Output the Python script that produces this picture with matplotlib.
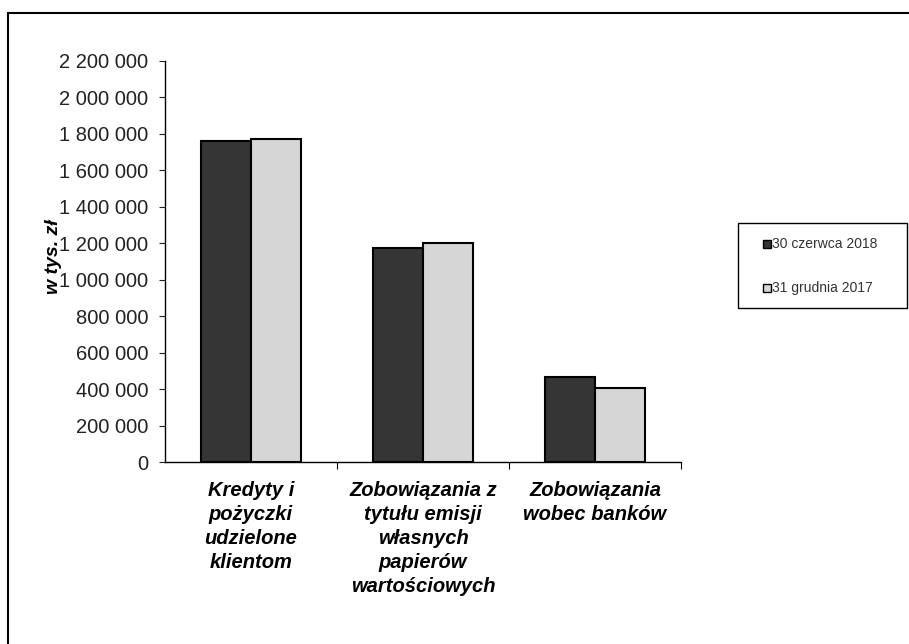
import numpy as np
import matplotlib
matplotlib.use('Agg')
import matplotlib.pyplot as plt
from matplotlib.ticker import FuncFormatter, FixedLocator
from matplotlib.patches import Rectangle

plt.rcParams['font.family'] = ['Liberation Sans', 'DejaVu Sans']

# data (w tys. zl)
categories = ['Kredyty i\npożyczki\nudzielone\nklientom',
              'Zobowiązania z\ntytułu emisji\nwłasnych\npapierów\nwartościowych',
              'Zobowiązania\nwobec banków']
series_names = ['30 czerwca 2018', '31 grudnia 2017']
jun_2018 = [1762000, 1173000, 468000]
dec_2017 = [1773000, 1200000, 408000]

colors = ['#353535', '#d6d6d6']

W, H = 909, 644
fig = plt.figure(figsize=(W / 100, H / 100), dpi=100)
ax = fig.add_axes([165 / W, 1 - 462 / H, 516 / W, 401 / H])

def fx(px):
    return px / W

def fy(py):
    return 1 - py / H

# outer frame (only top/left visible in the crop)
fig.patches.append(Rectangle((fx(8), -0.1), 1.2, fy(13) + 0.1,
                             transform=fig.transFigure, fill=False,
                             edgecolor='black', linewidth=1.5))

x = np.arange(len(categories))
w = 0.29
ax.bar(x - w / 2, jun_2018, w, color=colors[0], edgecolor='black', linewidth=1.5)
ax.bar(x + w / 2, dec_2017, w, color=colors[1], edgecolor='black', linewidth=1.5)

ax.set_xlim(-0.5, 2.5)
ax.set_ylim(0, 2200000)
ax.set_yticks(np.arange(0, 2200001, 200000))
ax.yaxis.set_major_formatter(FuncFormatter(lambda v, p: '{:,.0f}'.format(v).replace(',', ' ')))
ax.tick_params(axis='y', labelsize=14.5, length=4, width=0.8, pad=8, colors='#222222')

ax.set_xticks(x)
ax.set_xticklabels(categories, fontsize=14.5, fontstyle='italic', fontweight='bold',
                   linespacing=1.33)
ax.tick_params(axis='x', length=0, pad=14)
ax.xaxis.set_minor_locator(FixedLocator([0.5, 1.5, 2.5]))
ax.tick_params(axis='x', which='minor', length=5, width=0.8)

for s in ['top', 'right']:
    ax.spines[s].set_visible(False)
for s in ['left', 'bottom']:
    ax.spines[s].set_linewidth(1.0)

fig.text(fx(54), fy(257), 'w tys. zł', rotation=90, fontsize=14,
         fontstyle='italic', fontweight='bold', ha='center', va='center')

# legend box drawn by hand
fig.patches.append(Rectangle((fx(738), fy(308)), fx(907) - fx(738), fy(223) - fy(308),
                             transform=fig.transFigure, facecolor='white',
                             edgecolor='black', linewidth=1.0))
for name, c, yy in zip(series_names, colors, [244, 288]):
    fig.patches.append(Rectangle((fx(763), fy(yy + 4)), 8 / W, 8 / H,
                                 transform=fig.transFigure, facecolor=c,
                                 edgecolor='black', linewidth=1.0))
    fig.text(fx(772), fy(yy), name, fontsize=10, color='#333333',
             ha='left', va='center')

fig.savefig('out.png', dpi=100, facecolor='white')
